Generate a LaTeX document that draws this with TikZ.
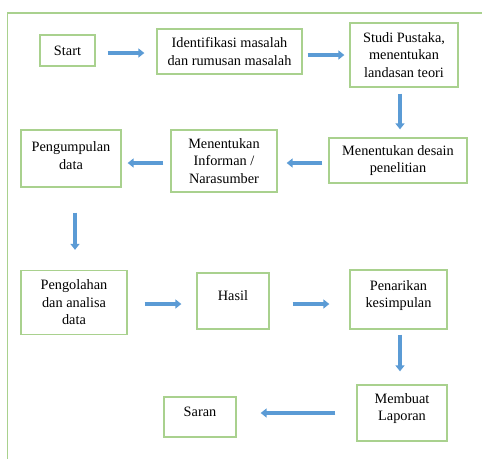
\documentclass[tikz,border=0pt]{standalone}
\usepackage{fontspec}
\setmainfont{Liberation Serif}
\usetikzlibrary{arrows.meta,calc}
\definecolor{boxgreen}{HTML}{A9D18E}
\definecolor{arrblue}{HTML}{5B9BD5}
\begin{document}
\begin{tikzpicture}[x=1pt,y=-1pt,
  box/.style={draw=boxgreen,line width=1.3pt,fill=white,align=center,inner sep=0pt,
    font=\fontsize{14.3}{17.5}\selectfont},
  blk/.style={draw=arrblue,line width=4pt,line cap=butt,
    -{Triangle[length=6pt 0 0,width=9pt 0 0]}}]
\useasboundingbox (0,0) rectangle (482,459);
% frame
\draw[boxgreen,line width=1.3pt] (482,13) -- (7.5,13) -- (7.5,459);
% boxes
\node[box,minimum width=55,minimum height=31] (start) at (67.5,50.5) {Start};
\node[box,minimum width=145,minimum height=45] (ident) at (229.5,51.5) {Identifikasi masalah\\dan rumusan masalah};
\node[box,minimum width=108,minimum height=64] (studi) at (404,55) {Studi Pustaka,\\menentukan\\landasan teori};
\node[box,minimum width=138,minimum height=45] (desain) at (398,160.5) {Menentukan desain\\penelitian};
\node[box,minimum width=106,minimum height=62] (inform) at (224,161) {Menentukan\\Informan /\\Narasumber};
\node[box,minimum width=100,minimum height=57,text depth=6pt] (kumpul) at (71,158.5) {Pengumpulan\\data};
\node[box,minimum width=106,minimum height=64] (olah) at (74,302.5) {Pengolahan\\dan analisa\\data};
\node[box,minimum width=72,minimum height=56,text depth=10pt] (hasil) at (233,301) {Hasil};
\node[box,minimum width=97,minimum height=59,text depth=11pt] (tarik) at (398.5,299.5) {Penarikan\\kesimpulan};
\node[box,minimum width=90,minimum height=56,text depth=12pt] (lapor) at (402,413) {Membuat\\Laporan};
\node[box,minimum width=72,minimum height=40,text depth=10pt] (saran) at (200,417) {Saran};
% block arrows
\draw[blk,shorten <=12pt,shorten >=12pt] ($(start.east)+(0,2.5)$) -- ($(ident.west)+(0,1.5)$);
\draw[blk,shorten <=5pt,shorten >=5pt] ($(ident.east)+(0,3.5)$) -- ($(studi.west)+(0,0)$);
\draw[blk,shorten <=6pt,shorten >=8pt] ($(studi.south)+(-4,0)$) -- ($(desain.north)+(2,0)$);
\draw[blk,shorten <=6pt,shorten >=9pt] ($(desain.west)+(0,2.5)$) -- ($(inform.east)+(0,2)$);
\draw[blk,shorten <=7pt,shorten >=6pt] ($(inform.west)+(0,2)$) -- ($(kumpul.east)+(0,4.5)$);
\draw[blk,shorten <=25pt,shorten >=20pt] ($(kumpul.south)+(4,0)$) -- ($(olah.north)+(1,0)$);
\draw[blk,shorten <=17pt,shorten >=15pt] ($(olah.east)+(0,1.5)$) -- ($(hasil.west)+(0,3)$);
\draw[blk,shorten <=23pt,shorten >=20pt] ($(hasil.east)+(0,3)$) -- ($(tarik.west)+(0,4.5)$);
\draw[blk,shorten <=5pt,shorten >=13pt] ($(tarik.south)+(1.5,0)$) -- ($(lapor.north)+(-2,0)$);
\draw[blk,shorten <=21pt,shorten >=24pt] ($(lapor.west)+(0,0)$) -- ($(saran.east)+(0,-4)$);
\end{tikzpicture}
\end{document}
